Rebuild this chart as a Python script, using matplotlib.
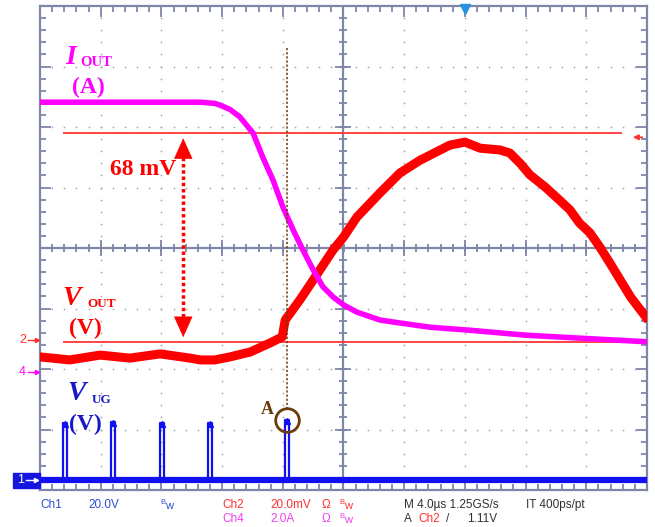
import matplotlib.pyplot as plt
import numpy as np

# scope screen in divisions: 10 x 8, time 4 us/div
# I_OUT (Ch4, 2 A/div)
t_iout = [-5.0, -2.36, -2.12, -2.03, -1.87, -1.71, -1.49, -1.33, -1.16, -1.0,
          -0.83, -0.67, -0.50, -0.34, -0.17, 0.0, 0.22, 0.60, 0.93,
          1.43, 2.09, 2.99, 3.89, 5.0]
iout = [2.41, 2.41, 2.39, 2.36, 2.29, 2.17, 1.90, 1.50, 1.12, 0.68,
        0.30, -0.03, -0.36, -0.64, -0.81, -0.94, -1.06, -1.19, -1.24,
        -1.31, -1.36, -1.44, -1.49, -1.55]

# V_OUT (Ch2, 20 mV/div)
t_vout = [-5.0, -4.51, -4.01, -3.52, -3.02, -2.53, -2.36, -2.12, -1.87, -1.54,
          -1.21, -1.01, -0.96, -0.72, -0.50, -0.17, 0.0, 0.22, 0.60,
          0.93, 1.26, 1.75, 2.0, 2.25, 2.58, 2.74, 2.91, 3.07, 3.32,
          3.56, 3.73, 3.89, 4.06, 4.22, 4.39, 4.56, 4.73, 4.98]
vout = [-1.80, -1.85, -1.77, -1.82, -1.75, -1.82, -1.85, -1.85, -1.80, -1.72,
        -1.57, -1.47, -1.19, -0.86, -0.53, -0.03, 0.18, 0.51, 0.91,
        1.24, 1.45, 1.70, 1.75, 1.65, 1.62, 1.57, 1.40, 1.21, 1.01,
        0.79, 0.63, 0.41, 0.25, 0.02, -0.25, -0.53, -0.81, -1.14]

# V_UG (Ch1, 20 V/div) gate pulses
pulse_t = [-4.59, -3.80, -2.99, -2.20, -0.93]
pulse_top = [-2.89, -2.88, -2.89, -2.89, -2.84]
vug_base = -3.83

cursor_hi, cursor_lo = 1.90, -1.55

MAG = '#ff00ff'
RED = '#ff0000'
BLUE = '#1010f0'
FRAME = '#7f86a8'
BROWN = '#6b3b0b'

W, H = 655, 527


def fpos(px, py):
    return px / W, 1 - py / H


fig = plt.figure(figsize=(6.55, 5.27), dpi=100)
ax = fig.add_axes([40 / W, 37 / H, 607 / W, 484 / H])
ax.set_xlim(-5, 5)
ax.set_ylim(-4, 4)

# frame + ticks
for s in ax.spines.values():
    s.set_color(FRAME)
    s.set_linewidth(1.6)
ax.set_xticks(range(-5, 6))
ax.set_yticks(range(-4, 5))
ax.set_xticks(np.arange(-5, 5.01, 0.2), minor=True)
ax.set_yticks(np.arange(-4, 4.01, 0.2), minor=True)
ax.tick_params(which='both', direction='in', top=True, right=True,
               labelbottom=False, labelleft=False, color=FRAME, width=1.3)
ax.tick_params(which='major', length=8)
ax.tick_params(which='minor', length=4)

# dotted graticule
fine_x = np.arange(-5, 5.01, 0.2)
fine_y = np.arange(-4, 4.01, 0.2)
for k in range(-4, 5):
    if k == 0:
        continue
    ax.plot([k] * len(fine_y), fine_y, 'o', ms=1.3, color='#a8acc0', mew=0, zorder=1)
for k in range(-3, 4):
    if k == 0:
        continue
    ax.plot(fine_x, [k] * len(fine_x), 'o', ms=1.3, color='#a8acc0', mew=0, zorder=1)

# centre crosshair with ticks
ax.axhline(0, color=FRAME, lw=1.6, zorder=1)
ax.axvline(0, color=FRAME, lw=1.6, zorder=1)
ax.plot(fine_x, [0] * len(fine_x), '|', ms=6, mew=1.3, color=FRAME, zorder=1)
ax.plot(range(-5, 6), [0] * 11, '|', ms=11, mew=1.3, color=FRAME, zorder=1)
ax.plot([0] * len(fine_y), fine_y, '_', ms=6, mew=1.3, color=FRAME, zorder=1)
ax.plot([0] * 9, range(-4, 5), '_', ms=11, mew=1.3, color=FRAME, zorder=1)

# cursors
ax.hlines([cursor_hi, cursor_lo], -4.62, 4.59, color='#ff3535', lw=1.3, zorder=3)
ax.annotate('', xy=(4.72, 1.83), xytext=(4.97, 1.83),
            arrowprops=dict(arrowstyle='-|>', color='#ff3535', lw=1.2,
                            mutation_scale=8))

# traces
ax.plot(t_vout, vout, color=RED, lw=6.5, solid_joinstyle='round', zorder=4)
ax.plot(t_iout, iout, color=MAG, lw=4, solid_joinstyle='round', zorder=5)
ax.plot([-5, 5], [vug_base, vug_base], color=BLUE, lw=4.5, zorder=4)
for t, top in zip(pulse_t, pulse_top):
    ax.plot([t - 0.03, t - 0.03, t + 0.03, t + 0.03],
            [vug_base, top, top, vug_base], color=BLUE, lw=1.6, zorder=4)
    ax.plot(t, top - 0.02, '^', ms=4, color=BLUE, zorder=4)

# marker A
ax.plot([-0.93, -0.93], [3.31, -2.64], color=BROWN, lw=1.1, ls=(0, (1.5, 1.2)), zorder=6)
ax.plot(-0.93, -2.84, 'o', ms=17, mfc='none', mec=BROWN, mew=2, zorder=7)

# 68 mV double arrow
xa = -2.64
ax.plot([xa, xa], [1.60, -1.28], color=RED, lw=2.5, ls=(0, (1.0, 0.8)), zorder=6)
ax.annotate('', xy=(xa, 1.86), xytext=(xa, 1.58),
            arrowprops=dict(arrowstyle='-|>,head_length=1.0,head_width=0.45',
                            color=RED, lw=0.5, mutation_scale=14), zorder=6)
ax.annotate('', xy=(xa, -1.52), xytext=(xa, -1.24),
            arrowprops=dict(arrowstyle='-|>,head_length=1.0,head_width=0.45',
                            color=RED, lw=0.5, mutation_scale=14), zorder=6)

# trigger position
ax.plot(2.0, 3.95, 'v', ms=7, color='#2a8fe0', clip_on=False, zorder=8)

# labels
serif = 'Liberation Serif'
lab = dict(family=serif, fontweight='bold', va='baseline')
VUG = '#1818c8'
fig.text(*fpos(65, 64), 'I', fontsize=20, style='italic', color=MAG, **lab)
fig.text(*fpos(80, 66), 'OUT', fontsize=10.5, color=MAG, **lab)
fig.text(*fpos(72, 93), '(A)', fontsize=17, color=MAG, **lab)
fig.text(*fpos(110, 175), '68 mV', fontsize=17, color=RED, **lab)
fig.text(*fpos(62, 305), 'V', fontsize=20, style='italic', color=RED, **lab)
fig.text(*fpos(87, 307), 'OUT', fontsize=9.5, color=RED, **lab)
fig.text(*fpos(69, 334), '(V)', fontsize=17, color=RED, **lab)
fig.text(*fpos(67, 400), 'V', fontsize=20, style='italic', color=VUG, **lab)
fig.text(*fpos(92, 403), 'UG', fontsize=9.5, color=VUG, **lab)
fig.text(*fpos(69, 430), '(V)', fontsize=17, color=VUG, **lab)
fig.text(*fpos(261, 414), 'A', fontsize=13, color=BROWN, **lab)

# channel markers on the left
sans = 'Liberation Sans'
fig.text(*fpos(19, 340), '2', fontsize=9, color='#ff3030', family=sans, va='center')
fig.text(*fpos(19, 372), '4', fontsize=9, color=MAG, family=sans, va='center')
for py, c in [(340, '#ff3030'), (372, MAG)]:
    fig.add_artist(plt.Line2D([28 / W, 36 / W], [1 - py / H] * 2, color=c, lw=1))
    fig.add_artist(plt.Line2D([37 / W], [1 - py / H], marker='>', ms=3, color=c))
fig.add_artist(plt.Rectangle(fpos(13, 488), 27 / W, 15 / H, color='#1515e0'))
fig.text(*fpos(17, 480), '1', fontsize=9, color='white', family=sans, va='center')
fig.add_artist(plt.Line2D([26 / W, 35 / W], [1 - 480 / H] * 2, color='white', lw=1))
fig.add_artist(plt.Line2D([36 / W], [1 - 480 / H], marker='>', ms=3, color='white'))

# status lines
row1, row2 = 505, 519
bot = dict(fontsize=8.5, family=sans, va='center')
cb, cr, cm, ck = '#2c4fd0', '#ff3030', '#f040f0', '#303030'
fig.text(*fpos(40, row1), 'Ch1', color=cb, **bot)
fig.text(*fpos(88, row1), '20.0V', color=cb, **bot)
fig.text(*fpos(222, row1), 'Ch2', color=cr, **bot)
fig.text(*fpos(270, row1), '20.0mV', color=cr, **bot)
fig.text(*fpos(222, row2), 'Ch4', color=cm, **bot)
fig.text(*fpos(270, row2), '2.0A', color=cm, **bot)
for px, py, c in [(160, row1, cb), (339, row1, cr), (339, row2, cm)]:
    fig.text(*fpos(px, py - 2), 'B', fontsize=5.5, color=c, family=sans, va='center')
    fig.text(*fpos(px + 5, py + 1), 'w', fontsize=8, color=c, family=sans, va='center')
fig.text(*fpos(322, row1), 'Ω', color=cr, **bot)
fig.text(*fpos(322, row2), 'Ω', color=cm, **bot)
fig.text(*fpos(404, row1), 'M 4.0µs 1.25GS/s', color=ck, **bot)
fig.text(*fpos(526, row1), 'IT 400ps/pt', color=ck, **bot)
fig.text(*fpos(404, row2), 'A', color=ck, **bot)
fig.text(*fpos(418, row2), 'Ch2', color=cr, **bot)
fig.text(*fpos(446, row2), '/', color=ck, **bot)
fig.text(*fpos(467, row2), '1.11V', color=ck, **bot)

fig.savefig('out.png', dpi=100)
